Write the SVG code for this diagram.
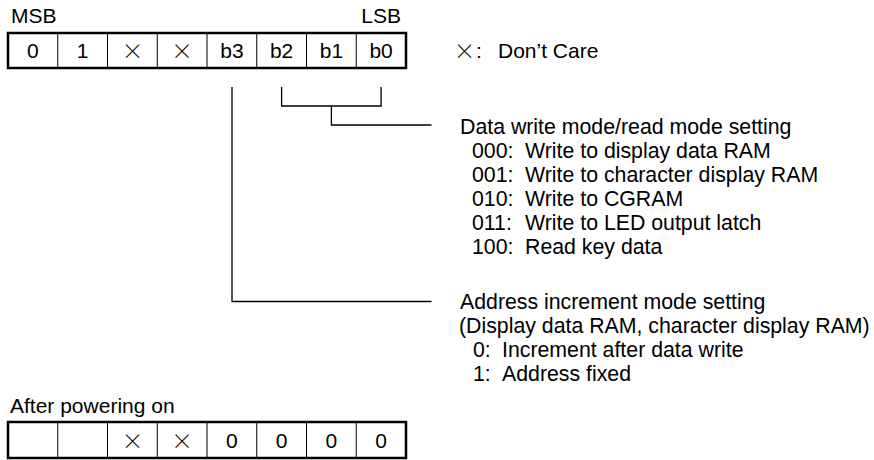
<svg xmlns="http://www.w3.org/2000/svg" width="874" height="460" viewBox="0 0 874 460">
<style>
text{font-family:"Liberation Sans",Arial,sans-serif;font-size:21px;fill:#000}
.r{font-size:21.3px}
.c{text-anchor:middle}
.x{font-family:"Noto Sans CJK JP","Liberation Sans",sans-serif;font-weight:300;font-size:21.5px;text-anchor:middle}
.box{fill:#fff;stroke:#000;stroke-width:2.5}
.div{stroke:#000;stroke-width:1}
.ln{fill:none;stroke:#000;stroke-width:1.3}
</style>
<rect width="874" height="460" fill="#fff"/>
<g id="labels">
<text x="11" y="23">MSB</text>
<text x="401" y="23" text-anchor="end">LSB</text>
<text class="x" x="464.5" y="59.2">×</text>
<text x="476" y="58">:</text>
<text x="498" y="58">Don’t Care</text>
</g>
<g id="register">
<rect class="box" x="8" y="33" width="398" height="35"/>
<path class="div" d="M57.75 33V68M107.5 33V68M157.25 33V68M207 33V68M256.75 33V68M306.5 33V68M356.25 33V68"/>
<text class="c" x="32.9" y="58">0</text>
<text class="c" x="82.6" y="58">1</text>
<text class="x" x="132.4" y="59.2">×</text>
<text class="x" x="182.1" y="59.2">×</text>
<text class="c" x="231.9" y="58">b3</text>
<text class="c" x="281.6" y="58">b2</text>
<text class="c" x="331.4" y="58">b1</text>
<text class="c" x="381.1" y="58">b0</text>
</g>
<g id="connectors">
<path class="ln" d="M281.6 87V106H381.1V87M331.4 106V125H431.5"/>
<path class="ln" d="M232 87V301.5H431.5"/>
</g>
<g id="data-mode">
<text class="r" x="460" y="134">Data write mode/read mode setting</text>
<text class="r" x="472" y="158">000:<tspan x="525">Write to display data RAM</tspan></text>
<text class="r" x="472" y="182">001:<tspan x="525">Write to character display RAM</tspan></text>
<text class="r" x="472" y="206">010:<tspan x="525">Write to CGRAM</tspan></text>
<text class="r" x="472" y="230">011:<tspan x="525">Write to LED output latch</tspan></text>
<text class="r" x="472" y="254">100:<tspan x="525">Read key data</tspan></text>
</g>
<g id="address-mode">
<text class="r" x="460" y="309">Address increment mode setting</text>
<text class="r" x="459" y="333">(Display data RAM, character display RAM)</text>
<text class="r" x="473" y="357">0:<tspan x="502">Increment after data write</tspan></text>
<text class="r" x="473" y="381">1:<tspan x="502">Address fixed</tspan></text>
</g>
<g id="power-on">
<text x="10" y="413">After powering on</text>
<rect class="box" x="8" y="422" width="398" height="36"/>
<path class="div" d="M57.75 422V458M107.5 422V458M157.25 422V458M207 422V458M256.75 422V458M306.5 422V458M356.25 422V458"/>
<text class="x" x="132.4" y="449.2">×</text>
<text class="x" x="182.1" y="449.2">×</text>
<text class="c" x="231.9" y="448">0</text>
<text class="c" x="281.6" y="448">0</text>
<text class="c" x="331.4" y="448">0</text>
<text class="c" x="381.1" y="448">0</text>
</g>
</svg>
